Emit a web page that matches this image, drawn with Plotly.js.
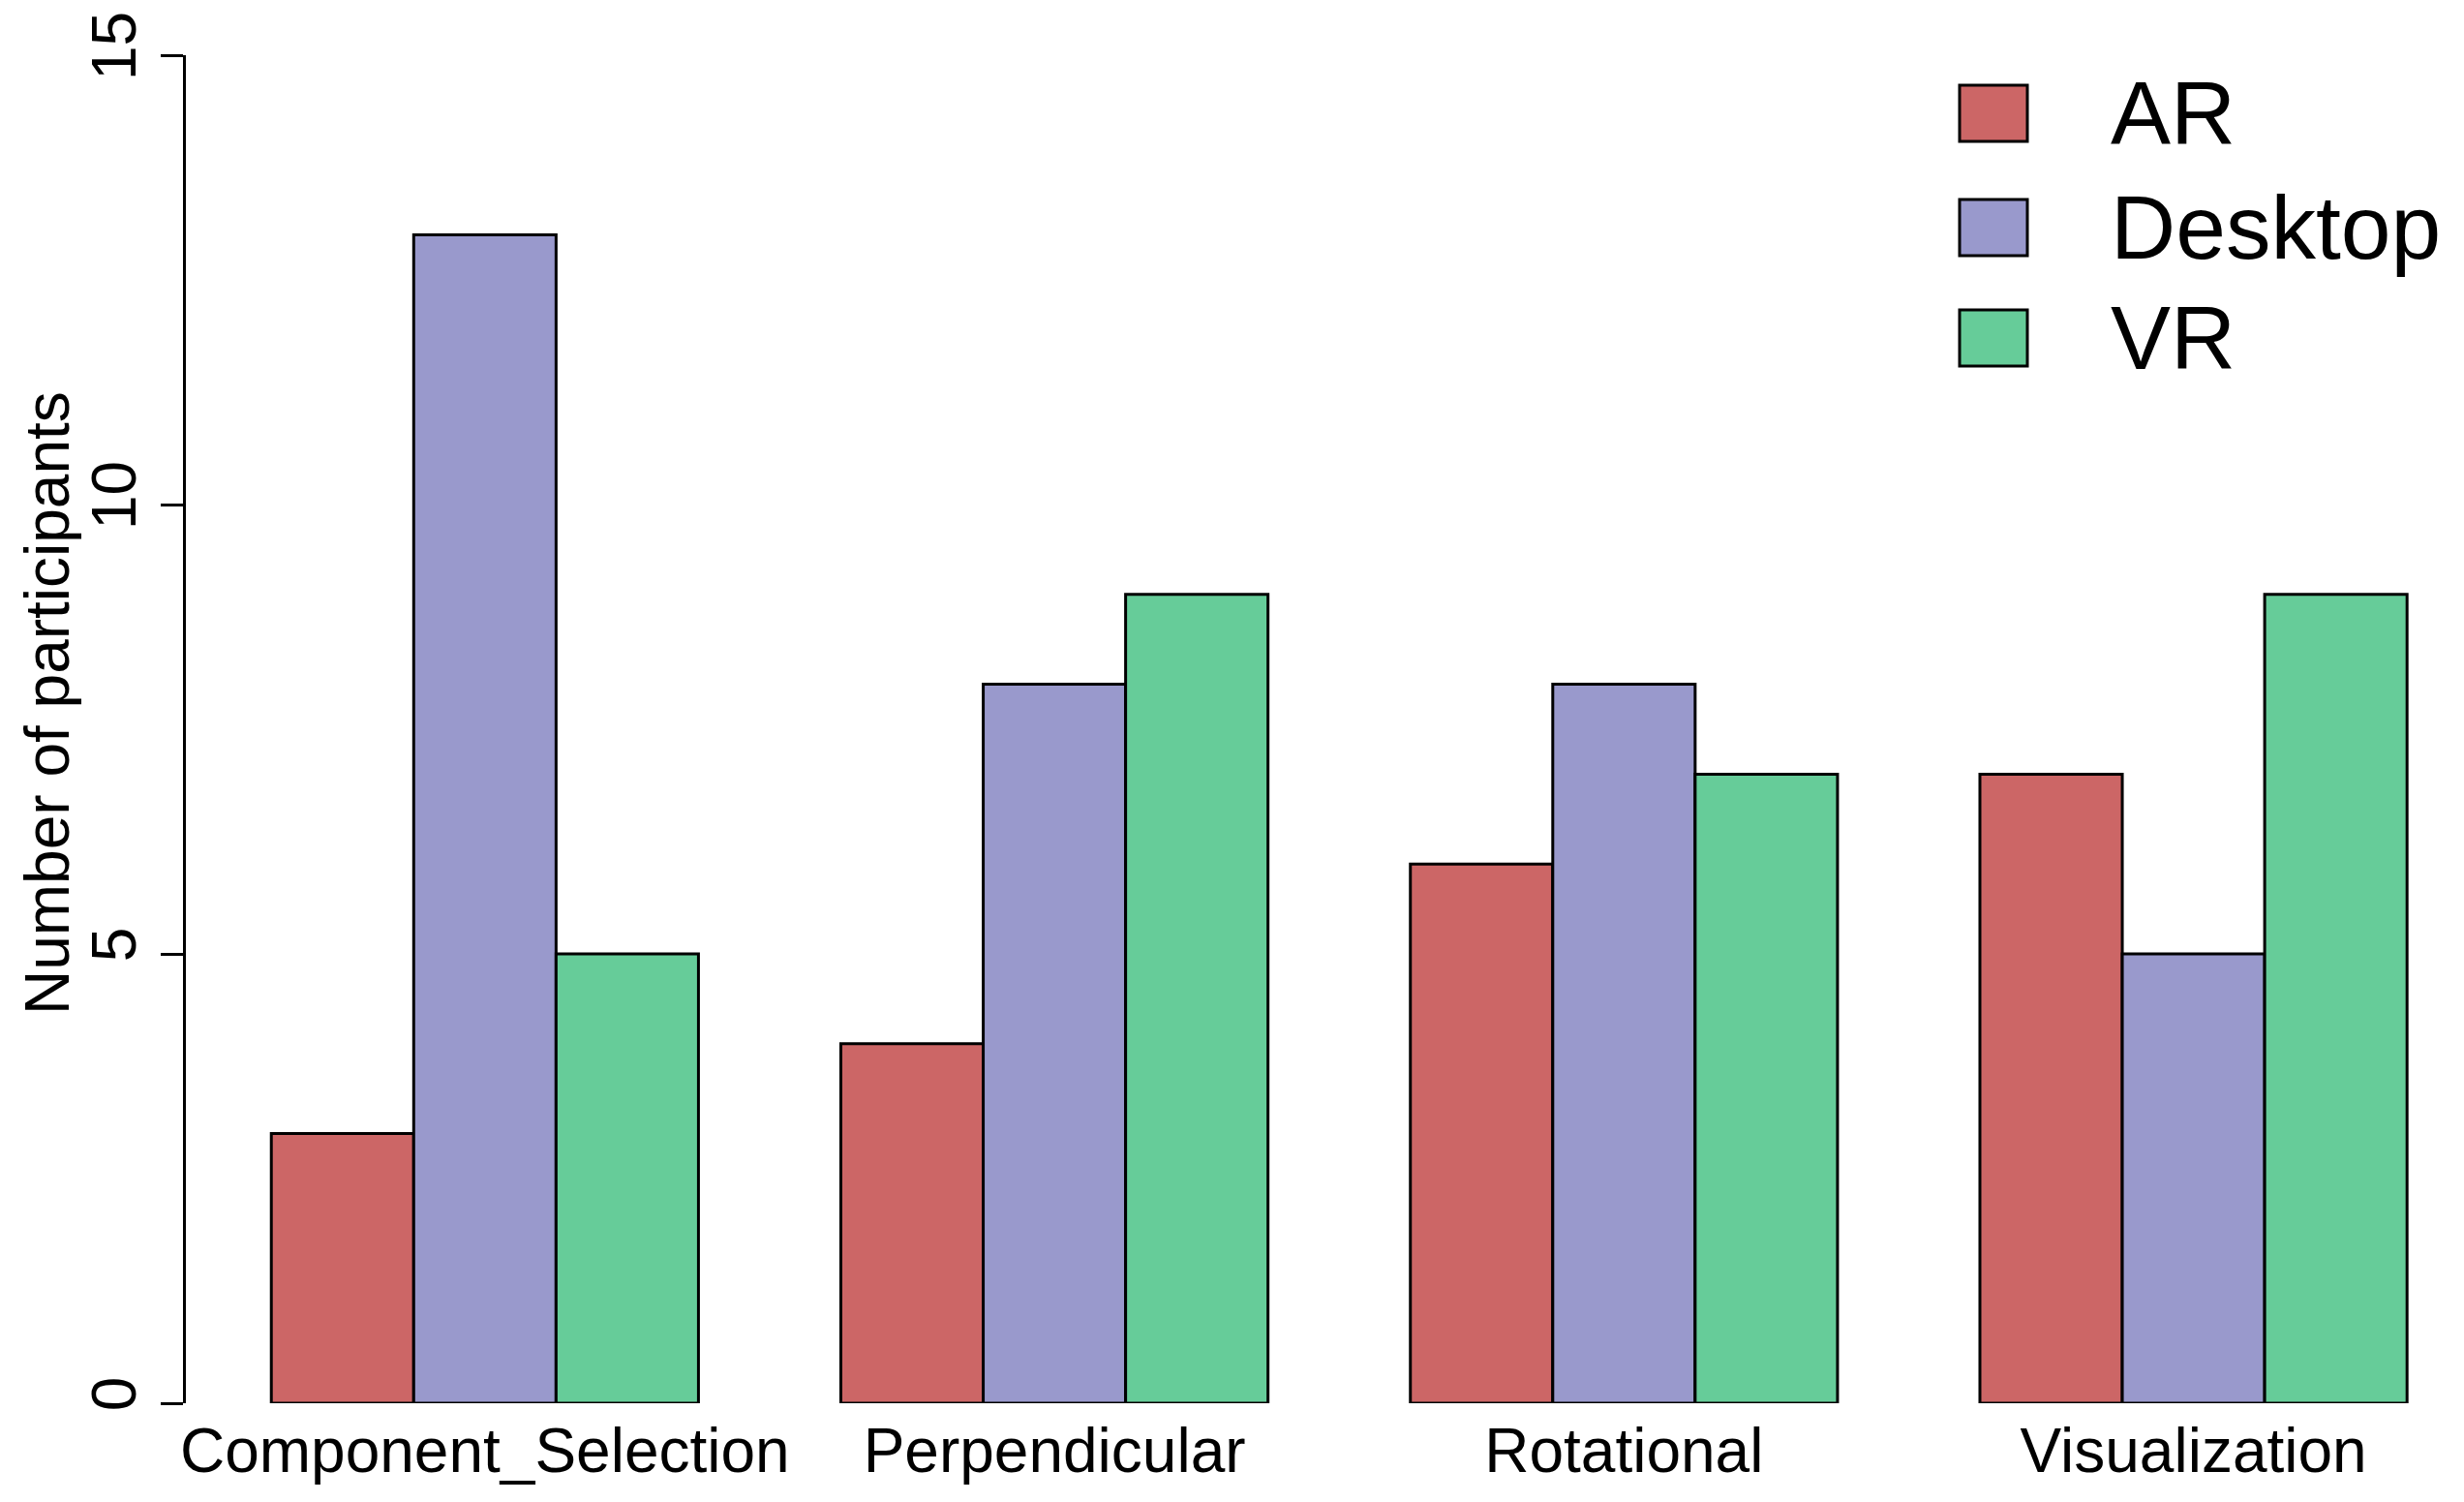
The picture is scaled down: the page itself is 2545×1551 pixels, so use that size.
<!DOCTYPE html>
<html>
<head>
<meta charset="utf-8">
<script src="https://cdn.plot.ly/plotly-3.0.1.min.js"></script>
<style>html,body{margin:0;padding:0;background:#fff;}#chart{width:2545px;height:1551px;}</style>
</head>
<body>
<div id="chart"></div>
<script>
// ---- data ----
const categories = ["Component_Selection", "Perpendicular", "Rotational", "Visualization"];
const seriesNames = ["AR", "Desktop", "VR"];
const arValues = [3, 4, 6, 7];
const desktopValues = [13, 8, 8, 5];
const vrValues = [5, 9, 7, 9];
const yTickValues = [0, 5, 10, 15];
const yTickLabels = ["0", "5", "10", "15"];
const yAxisTitle = "Number of participants";

// ---- styling ----
const colors = ["#CC6666", "#9999CC", "#66CC99"];
const W = 2545, H = 1551;
const M = {l: 192, r: 0, t: 57, b: 102};
const plotW = W - M.l - M.r, plotH = H - M.t - M.b;
const FONT = "Liberation Sans, Arial, Helvetica, sans-serif";

const allValues = [arValues, desktopValues, vrValues];
const traces = seriesNames.map((name, i) => ({
  type: "bar",
  name: name,
  x: categories,
  y: allValues[i],
  marker: {color: colors[i], line: {color: "#000", width: 3}},
  showlegend: false,
  hoverinfo: "x+y+name"
}));

// custom legend (large squares like the R legend)
const px2x = px => (px - M.l) / plotW;
const py2y = py => (H - M.b - py) / plotH;
const legendCentersY = [117, 235, 349];
const shapes = [];
const annotations = [];
seriesNames.forEach((name, i) => {
  const cy = legendCentersY[i];
  shapes.push({
    type: "rect", xref: "paper", yref: "paper",
    x0: px2x(2024), x1: px2x(2094),
    y0: py2y(cy + 29), y1: py2y(cy - 29),
    fillcolor: colors[i], line: {color: "#000", width: 3}
  });
  annotations.push({
    xref: "paper", yref: "paper",
    x: px2x(2178), y: py2y(cy),
    xanchor: "left", yanchor: "middle",
    text: name, showarrow: false,
    font: {family: FONT, size: 93, color: "#000"}
  });
});

// y-axis title (placed like R's mtext, slightly above the plot centre)
annotations.push({
  xref: "paper", yref: "paper",
  x: px2x(49), y: py2y(726),
  xanchor: "center", yanchor: "middle",
  textangle: -90,
  text: yAxisTitle, showarrow: false,
  font: {family: FONT, size: 64, color: "#000"}
});

const layout = {
  width: W, height: H,
  margin: M,
  paper_bgcolor: "#fff", plot_bgcolor: "#fff",
  barmode: "group",
  bargap: 0.25,
  bargroupgap: 0,
  showlegend: false,
  font: {family: FONT, color: "#000"},
  xaxis: {
    type: "category",
    range: [-0.525, 3.475],
    showline: false, showgrid: false, zeroline: false,
    ticks: "", showticklabels: true,
    tickfont: {family: FONT, size: 64, color: "#000"},
    ticklabelstandoff: 6,
    fixedrange: true
  },
  yaxis: {
    range: [0, 15],
    tickvals: yTickValues,
    ticktext: yTickLabels,
    tickangle: -90,
    ticks: "outside", ticklen: 23, tickwidth: 3, tickcolor: "#000",
    showline: true, linecolor: "#000", linewidth: 3,
    showgrid: false, zeroline: false,
    tickfont: {family: FONT, size: 64, color: "#000"},
    fixedrange: true
  },
  shapes: shapes,
  annotations: annotations
};

Plotly.newPlot("chart", traces, layout, {displayModeBar: false, staticPlot: true});
</script>
</body>
</html>
